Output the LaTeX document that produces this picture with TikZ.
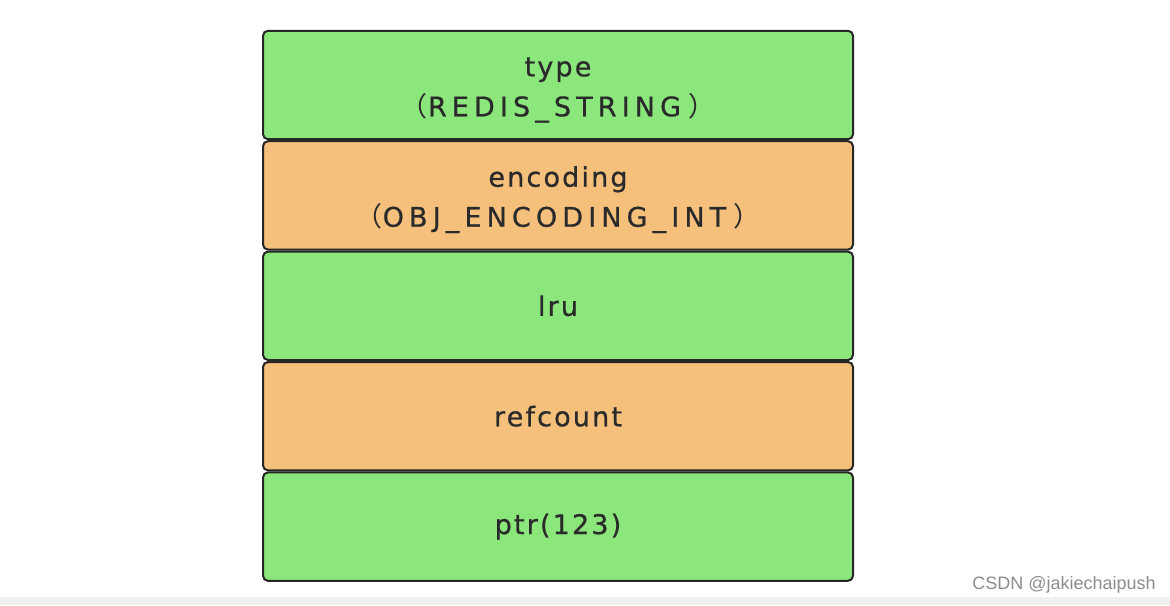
\documentclass[tikz,border=0pt]{standalone}
\usepackage{fontspec}
\setmainfont{DejaVu Sans}[FakeBold=0.7]
\newfontfamily\cjk{Noto Sans CJK SC}
\newfontfamily\wmfont{Liberation Sans}
\usetikzlibrary{positioning}
\definecolor{fieldgreen}{HTML}{8BE67B}
\definecolor{fieldorange}{HTML}{F5C07C}
\definecolor{textdark}{HTML}{2A2A2A}
\tikzset{
  field/.style={draw=black!85, line width=1pt, rounded corners=2.5pt,
    minimum width=295pt, minimum height=54.2pt, align=center,
    text=textdark, font=\fontsize{13.5}{20}\selectfont\addfontfeature{LetterSpace=8}},
  green field/.style={field, fill=fieldgreen},
  orange field/.style={field, fill=fieldorange}
}
% wide caps line with full-width brackets
\newcommand{\capsline}[1]{{\addfontfeature{LetterSpace=19}{\cjk （}\hspace{0pt}#1\hspace{3.5pt}{\cjk ）}}}
\newcommand{\topline}[1]{\rule{0pt}{14.5pt}#1}
\begin{document}
\begin{tikzpicture}[x=0.5pt,y=-0.5pt]
\useasboundingbox (0,0) rectangle (1170,605);
\fill[black!6] (0,597) rectangle (1170,605);
\node[green field] (type) at (558,85) {\topline{type}\\\capsline{REDIS\_STRING}};
\node[orange field, below=0pt of type] (encoding) {\topline{encoding}\\\capsline{OBJ\_ENCODING\_INT}};
\node[green field, below=0pt of encoding] (lru) {lru};
\node[orange field, below=0pt of lru] (refcount) {refcount};
\node[green field, below=0pt of refcount] (ptr) {ptr(123)};
\node[text=black!45, font=\wmfont\fontsize{9}{11}\selectfont, anchor=east, inner xsep=0pt] (mark) at (1156,585) {CSDN @jakiechaipush};
\end{tikzpicture}
\end{document}
